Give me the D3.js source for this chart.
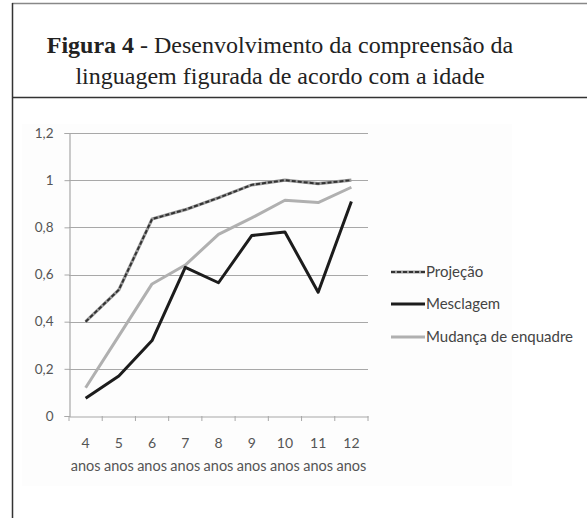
<!DOCTYPE html>
<html><head><meta charset="utf-8">
<script src="https://cdn.jsdelivr.net/npm/d3@7"></script>
<style>body{margin:0;background:#fff}svg{display:block}</style>
</head><body>
<svg id="c" width="587" height="518"></svg>
<script>
const categories = ["4","5","6","7","8","9","10","11","12"];
const projecao = [0.40,0.535,0.835,0.875,0.925,0.98,1.0,0.985,1.0];
const mesclagem = [0.075,0.17,0.32,0.63,0.565,0.765,0.78,0.525,0.91];
const mudanca = [0.12,0.34,0.56,0.64,0.77,0.84,0.915,0.905,0.97];
const yTicks = [0,0.2,0.4,0.6,0.8,1,1.2];
const seriesNames = ["Projeção","Mesclagem","Mudança de enquadre"];

const svg = d3.select("#c");
// frame
svg.append("line").attr("x1",12).attr("x2",587).attr("y1",3.5).attr("y2",3.5).attr("stroke","#888").attr("stroke-width",1.5);
svg.append("line").attr("x1",12.5).attr("x2",12.5).attr("y1",3).attr("y2",518).attr("stroke","#333").attr("stroke-width",1.5);
svg.append("line").attr("x1",12).attr("x2",587).attr("y1",97.5).attr("y2",97.5).attr("stroke","#333").attr("stroke-width",1.5);
// light chart background
svg.append("rect").attr("x",22).attr("y",124).attr("width",490).attr("height",362).attr("fill","#fdfdfd");

const tfont = "Liberation Serif, DejaVu Serif, serif";
const title = svg.append("text").attr("x",280).attr("y",53).attr("text-anchor","middle")
  .attr("font-family",tfont).attr("font-size",24).attr("fill","#222");
title.append("tspan").attr("font-weight","bold").text("Figura 4");
title.append("tspan").text(" - Desenvolvimento da compreensão da");
svg.append("text").attr("x",280).attr("y",84).attr("text-anchor","middle")
  .attr("font-family",tfont).attr("font-size",24).attr("fill","#222")
  .text("linguagem figurada de acordo com a idade");

const x = d3.scaleBand().domain(categories).range([69,368]);
const y = d3.scaleLinear().domain([0,1.2]).range([416,133]);
const sfont = "Lato, Open Sans, sans-serif";

// gridlines
svg.append("g").selectAll("line").data(yTicks.filter(d=>d>0)).join("line")
  .attr("x1",69).attr("x2",368).attr("y1",d=>Math.round(y(d))+0.5).attr("y2",d=>Math.round(y(d))+0.5)
  .attr("stroke","#a8a8a8").attr("stroke-width",1.2);

// y axis
const yAxis = svg.append("g").attr("transform","translate(69.5,0)")
  .call(d3.axisLeft(y).tickValues(yTicks).tickSize(5).tickPadding(11).tickFormat(d=>String(d).replace(".",",")));
yAxis.select(".domain").attr("stroke","#a8a8a8").attr("stroke-width",1.2);
yAxis.selectAll(".tick line").attr("stroke","#a8a8a8");
yAxis.selectAll("text").attr("font-family",sfont).attr("font-size",13.5).attr("fill","#555");

// x axis
const xAxis = svg.append("g").attr("transform",`translate(0,${Math.round(y(0))+0.5})`)
  .call(d3.axisBottom(x).tickSize(0).tickPadding(22));
xAxis.select(".domain").attr("stroke","#a8a8a8").attr("stroke-width",1.2);
xAxis.selectAll("text").attr("font-family",sfont).attr("font-size",14).attr("fill","#555");
xAxis.selectAll(".tick").append("text").attr("y",50).attr("dy","0.71em").attr("fill","#555")
  .attr("font-family",sfont).attr("font-size",14.5).attr("text-anchor","middle").text("anos")
  .attr("y",44);
// band boundary ticks
const bounds = categories.map(c=>x(c)).concat([x.range()[1]]);
svg.append("g").selectAll("line").data(bounds).join("line")
  .attr("x1",d=>d).attr("x2",d=>d).attr("y1",y(0)).attr("y2",y(0)+5).attr("stroke","#a8a8a8");

const line = d3.line().x((d,i)=>x(categories[i])+x.bandwidth()/2).y(d=>y(d));
// series
svg.append("path").datum(mudanca).attr("d",line).attr("fill","none").attr("stroke","#b0b0b0").attr("stroke-width",3).attr("stroke-linejoin","round");
svg.append("path").datum(mesclagem).attr("d",line).attr("fill","none").attr("stroke","#1c1c1c").attr("stroke-width",3).attr("stroke-linejoin","round");
svg.append("path").datum(projecao).attr("d",line).attr("fill","none").attr("stroke","#9a9a9a").attr("stroke-width",3.2).attr("stroke-linejoin","round");
svg.append("path").datum(projecao).attr("d",line).attr("fill","none").attr("stroke","#333").attr("stroke-width",2).attr("stroke-dasharray","4,2");

// legend
const legY = [272,304,337];
const styles = [
  [{s:"#9a9a9a",w:3,d:null},{s:"#333",w:2,d:"4,2"}],
  [{s:"#1c1c1c",w:3,d:null}],
  [{s:"#b0b0b0",w:3,d:null}]
];
seriesNames.forEach((n,i)=>{
  styles[i].forEach(st=>{
    svg.append("line").attr("x1",391).attr("x2",425).attr("y1",legY[i]).attr("y2",legY[i])
      .attr("stroke",st.s).attr("stroke-width",st.w).attr("stroke-dasharray",st.d);
  });
  svg.append("text").attr("x",426).attr("y",legY[i]).attr("dy","0.35em")
    .attr("font-family",sfont).attr("font-size",15).attr("fill","#444").text(n);
});
</script>
</body></html>
